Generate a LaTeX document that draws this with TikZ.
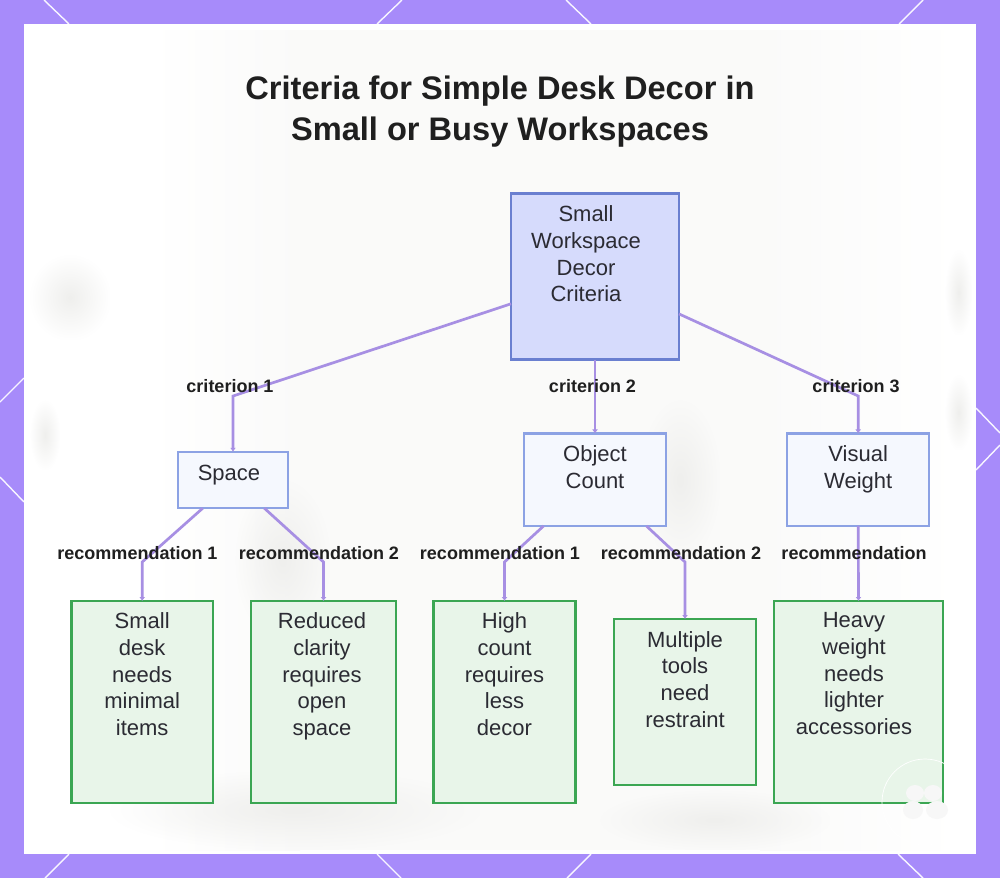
\documentclass[tikz,border=0pt]{standalone}
\usepackage{fontspec}
\setmainfont{Liberation Sans}
\usetikzlibrary{arrows.meta,fadings}
\definecolor{framec}{HTML}{A78BFA}
\definecolor{edgec}{HTML}{A78FE3}
\definecolor{inkc}{HTML}{2B2B33}
\definecolor{rootf}{HTML}{D6DBFC}
\definecolor{rootd}{HTML}{6A7FD0}
\definecolor{subf}{HTML}{F5F8FE}
\definecolor{subd}{HTML}{8CA2E4}
\definecolor{leaff}{HTML}{E8F5E9}
\definecolor{leafd}{HTML}{3BA653}
\definecolor{blurc}{HTML}{EFEFED}
\definecolor{panelc}{HTML}{FAFAF9}
\tikzfading[name=softblob,inner color=transparent!0,outer color=transparent!100]
\tikzset{
  x=1pt,y=-1pt,
  boxn/.style={draw,line width=2.2pt,inner sep=0pt,outer sep=0pt},
  rootbox/.style={boxn,draw=rootd,fill=rootf},
  subbox/.style={boxn,draw=subd,fill=subf},
  leafbox/.style={boxn,draw=leafd,fill=leaff},
  nodetext/.style={anchor=north,align=center,inner sep=0pt,text=inkc,font=\fontsize{22}{26.7}\selectfont},
  edgelabel/.style={anchor=center,inner sep=0pt,text=black!88,font=\fontsize{18}{22}\selectfont\bfseries},
  titletext/.style={anchor=center,align=center,inner sep=0pt,text=black!88,font=\fontsize{32.6}{41}\selectfont\bfseries},
  flow/.style={draw=edgec,line width=2.7pt,line join=miter,-{Latex[length=4pt,width=6pt]}},
  framecut/.style={draw=white!92!framec,line width=1.4pt},
  wmring/.style={draw=white,line width=.7pt},
  wmblob/.style={fill=white!97!black},
  softshape/.style={fill=blurc,path fading=softblob},
}
\begin{document}
\begin{tikzpicture}
\useasboundingbox (0,0) rectangle (1000,878);
% frame
\fill[framec] (0,0) rectangle (1000,878);
\draw[framecut] (44,0)--(69,24) (402,0)--(377,24) (566,0)--(591,24) (923,0)--(899,24);
\draw[framecut] (45,878)--(69,854) (401,878)--(377,854) (567,878)--(591,854) (923,878)--(898,854);
\draw[framecut] (0,402)--(24,378) (0,477)--(24,502);
\draw[framecut] (976,408)--(1000,433) (1000,445)--(976,470);
\fill[white] (24,24) rectangle (976,854);
% faint blurred backdrop
\shade[left color=white,right color=panelc] (150,30) rectangle (300,850);
\fill[panelc] (300,30) rectangle (760,850);
\shade[left color=panelc,right color=white] (760,30) rectangle (960,850);
\fill[softshape] (30,255) rectangle (110,340);
\fill[softshape] (30,400) rectangle (60,470);
\fill[softshape] (945,250) rectangle (972,335);
\fill[softshape] (945,375) rectangle (972,450);
\fill[softshape] (235,480) rectangle (330,640);
\fill[softshape] (640,400) rectangle (720,560);
\fill[softshape] (110,770) rectangle (480,850);
\fill[softshape] (600,790) rectangle (830,850);
% title
\node[titletext] (title) at (500,112) {Criteria for Simple Desk Decor in\\Small or Busy Workspaces};
% boxes
\node[rootbox,minimum width=168pt,minimum height=166pt] (root) at (595,276.5) {};
\node[subbox,minimum width=109.5pt,minimum height=56.5pt] (space) at (233,480) {};
\node[subbox,minimum width=142pt,minimum height=92.5pt] (object) at (595,479.7) {};
\node[subbox,minimum width=142pt,minimum height=92.5pt] (visual) at (858.2,479.7) {};
\node[leafbox,minimum width=141.5pt,minimum height=202pt] (desk) at (142.2,702) {};
\node[leafbox,minimum width=145pt,minimum height=202pt] (clarity) at (323.5,702) {};
\node[leafbox,minimum width=142pt,minimum height=202pt] (count) at (504.5,702) {};
\node[leafbox,minimum width=142pt,minimum height=166pt] (tools) at (685,702) {};
\node[leafbox,minimum width=169pt,minimum height=202pt] (heavy) at (858.5,702) {};
% elbows
\coordinate (e1) at (233,396);
\coordinate (e3) at (858.2,396);
\coordinate (d1) at (142.2,562);
\coordinate (d2) at (323.5,562);
\coordinate (d3) at (504.5,562);
\coordinate (d4) at (685,562);
% connectors
\draw[flow] (root.198) -- (e1) -- (space.north);
\draw[flow] (root.south) -- (object.north);
\draw[flow] (root.-24.6) -- (e3) -- (visual.north);
\draw[flow] (space.223) -- (d1) -- (desk.north);
\draw[flow] (space.-42) -- (d2) -- (clarity.north);
\draw[flow] (object.222.8) -- (d3) -- (count.north);
\draw[flow] (object.-42.8) -- (d4) -- (tools.north);
\draw[flow] (visual.south) -- (heavy.north);
% node texts
\node[nodetext] (troot) at (586,205.5) {Small\\Workspace\\Decor\\Criteria};
\node[nodetext] (tspace) at (229,464.5) {Space};
\node[nodetext] (tobject) at (595,445.5) {Object\\Count};
\node[nodetext] (tvisual) at (858.2,445.5) {Visual\\Weight};
\node[nodetext] (tdesk) at (142.2,612.5) {Small\\desk\\needs\\minimal\\items};
\node[nodetext] (tclarity) at (322,612.5) {Reduced\\clarity\\requires\\open\\space};
\node[nodetext] (tcount) at (504.5,612.5) {High\\count\\requires\\less\\decor};
\node[nodetext] (ttools) at (685,631) {Multiple\\tools\\need\\restraint};
\node[nodetext] (theavy) at (854,612.5) {Heavy\\weight\\needs\\lighter\\accessories};
% edge labels
\node[edgelabel] (l1) at (230,386) {criterion 1};
\node[edgelabel] (l2) at (592.5,386) {criterion 2};
\node[edgelabel] (l3) at (856,386) {criterion 3};
\node[edgelabel] (r1) at (137.5,553) {recommendation 1};
\node[edgelabel] (r2) at (319,553) {recommendation 2};
\node[edgelabel] (r3) at (500,553) {recommendation 1};
\node[edgelabel] (r4) at (681,553) {recommendation 2};
\node[edgelabel] (r5) at (854,553) {recommendation};
% watermark
\draw[wmring] (925,802) circle (43);
\fill[wmblob] (915,793) ellipse (9 and 8) (933,793) ellipse (9 and 8) (913,810) ellipse (10 and 9) (937,810) ellipse (11 and 9);
\end{tikzpicture}
\end{document}
